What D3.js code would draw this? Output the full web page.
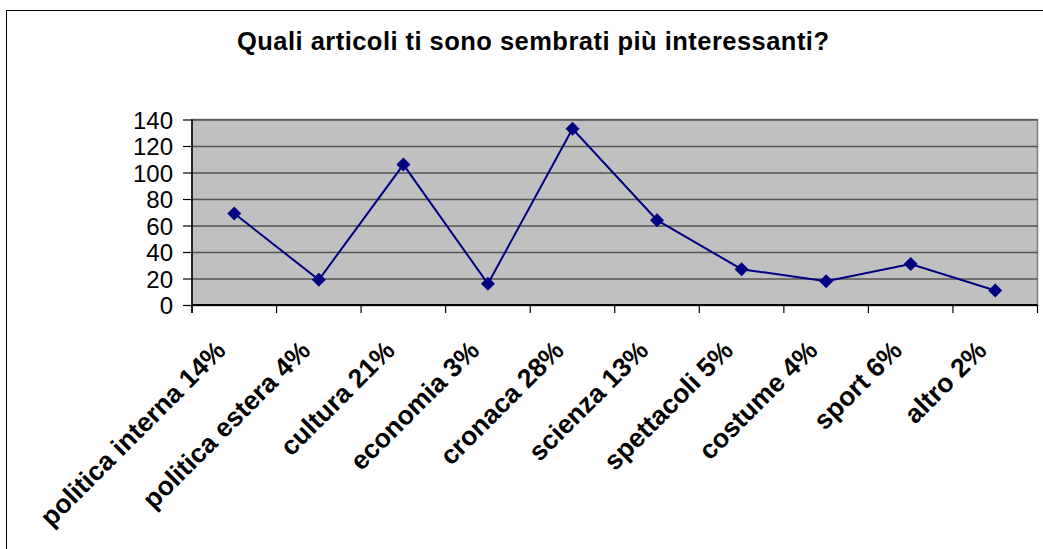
<!DOCTYPE html>
<html>
<head>
<meta charset="utf-8">
<script src="https://d3js.org/d3.v7.min.js"></script>
<style>
  body { margin: 0; background: #fff; }
  text { font-family: Arial, "Liberation Sans", sans-serif; fill: #000; }
</style>
</head>
<body>
<div id="chart"></div>
<script>
// data
var categories = ["politica interna 14%", "politica estera 4%", "cultura 21%", "economia 3%",
    "cronaca 28%", "scienza 13%", "spettacoli 5%", "costume 4%", "sport 6%", "altro 2%"];
var values = [69, 19, 106, 16, 133, 64, 27, 18, 31, 11];
var yTicks = [0, 20, 40, 60, 80, 100, 120, 140];
var title = "Quali articoli ti sono sembrati più interessanti?";

// set the dimensions of the plot area
var W = 1043, H = 549;
var plot = {left: 192, top: 119.5, right: 1037.5, bottom: 305};

var svg = d3.select("#chart").append("svg")
    .attr("width", W)
    .attr("height", H);

// outer chart frame
svg.append("rect")
    .attr("x", 6.5).attr("y", 10.5)
    .attr("width", 1100).attr("height", 600)
    .attr("fill", "none")
    .attr("stroke", "#000")
    .attr("stroke-width", 1);

// title
svg.append("text")
    .attr("x", 533)
    .attr("y", 50)
    .attr("text-anchor", "middle")
    .attr("textLength", 592)
    .attr("lengthAdjust", "spacing")
    .style("font-weight", "bold")
    .style("font-size", "25.5px")
    .text(title);

// set the ranges
var x = d3.scaleBand().domain(categories).range([plot.left, plot.right]);
var y = d3.scaleLinear().domain([0, 140]).range([plot.bottom, plot.top]);

// grey plot background
svg.append("rect")
    .attr("x", plot.left).attr("y", plot.top)
    .attr("width", plot.right - plot.left)
    .attr("height", plot.bottom - plot.top)
    .attr("fill", "#c0c0c0")
    .attr("stroke", "#808080")
    .attr("stroke-width", 1.5);

// gridlines
svg.append("g")
    .attr("class", "grid")
    .attr("transform", "translate(" + plot.left + ",0)")
    .call(d3.axisLeft(y).tickValues(yTicks).tickSize(-(plot.right - plot.left)).tickFormat(""))
    .call(function(g) {
        g.select(".domain").remove();
        g.selectAll("line").attr("stroke", "#555").attr("stroke-width", 1.6);
    });

// y axis
svg.append("g")
    .attr("transform", "translate(" + plot.left + ",0)")
    .call(d3.axisLeft(y).tickValues(yTicks).tickSize(9).tickPadding(10))
    .call(function(g) {
        g.select(".domain").attr("d", "M0," + plot.top + "V" + (plot.bottom + 8)).attr("stroke", "#000").attr("stroke-width", 1.5);
        g.selectAll("line").attr("stroke", "#000").attr("stroke-width", 1.2);
        g.selectAll("text")
            .style("font-size", "24px")
            .style("font-family", "Arial, 'Liberation Sans', sans-serif")
            .attr("fill", "#000")
            .attr("dy", "0.36em");
    });

// x axis: ticks between categories
var boundaries = categories.map(function(c) { return x(c); }).concat([x.range()[1]]);
var xAxis = svg.append("g");
xAxis.append("line")
    .attr("x1", plot.left).attr("x2", plot.right)
    .attr("y1", plot.bottom).attr("y2", plot.bottom)
    .attr("stroke", "#000").attr("stroke-width", 2);
xAxis.selectAll(".tick")
    .data(boundaries)
    .enter().append("line")
    .attr("x1", function(d) { return d; }).attr("x2", function(d) { return d; })
    .attr("y1", plot.bottom).attr("y2", plot.bottom + 8)
    .attr("stroke", "#000").attr("stroke-width", 1.2);

xAxis.selectAll(".label")
    .data(categories)
    .enter().append("text")
    .attr("class", "label")
    .attr("text-anchor", "end")
    .attr("transform", function(d) {
        return "translate(" + (x(d) + x.bandwidth() / 2 - 7) + ",352) rotate(-45)";
    })
    .style("font-weight", "bold")
    .style("font-size", "26.5px")
    .text(function(d) { return d; });

// the line
var line = d3.line()
    .x(function(d, i) { return x(categories[i]) + x.bandwidth() / 2; })
    .y(function(d) { return y(d); });

svg.append("path")
    .datum(values)
    .attr("fill", "none")
    .attr("stroke", "#000080")
    .attr("stroke-width", 2)
    .attr("d", line);

// diamond markers
svg.selectAll(".marker")
    .data(values)
    .enter().append("path")
    .attr("class", "marker")
    .attr("transform", function(d, i) {
        return "translate(" + (x(categories[i]) + x.bandwidth() / 2) + "," + y(d) + ")";
    })
    .attr("d", "M0,-7L7,0L0,7L-7,0Z")
    .attr("fill", "#000080");
</script>
</body>
</html>
